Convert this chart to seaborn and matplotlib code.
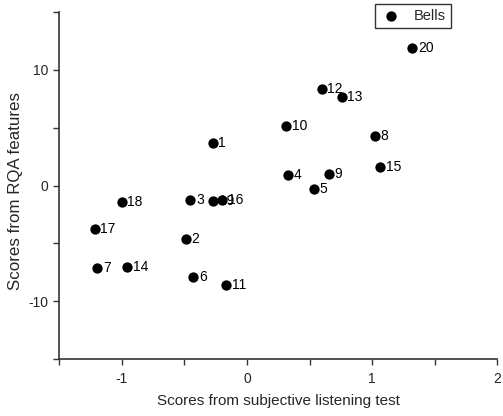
import matplotlib
matplotlib.use("Agg")
import matplotlib.pyplot as plt
import seaborn as sns
import pandas as pd
from matplotlib.ticker import FixedLocator

sns.set_style("ticks")
plt.rcParams['font.family'] = ['Liberation Sans', 'DejaVu Sans']
plt.rcParams['axes.unicode_minus'] = False

labels = [str(i) for i in range(1, 21)]
subjective = [-0.276, -0.489, -0.452, 0.329, 0.534, -0.430, -1.197, 1.020, 0.651, 0.313,
              -0.168, 0.598, 0.758, -0.957, 1.063, -0.200, -1.216, -1.002, -0.270, 1.322]
rqa = [3.64, -4.63, -1.27, 0.95, -0.32, -7.93, -7.09, 4.28, 0.98, 5.17,
       -8.56, 8.35, 7.63, -7.03, 1.56, -1.27, -3.76, -1.45, -1.36, 11.93]

df = pd.DataFrame({"x": subjective, "y": rqa, "label": labels})

fig = plt.figure(figsize=(5.03, 4.16), dpi=100)
ax = fig.add_axes([0.118, 0.137, 0.9887 - 0.118, 0.971 - 0.137])

sns.scatterplot(data=df, x="x", y="y", color="black", edgecolor="black",
                s=55, linewidth=0, label="Bells", ax=ax, zorder=3)

for xi, yi, lab in zip(df["x"], df["y"], df["label"]):
    ax.annotate(lab, (xi, yi), xytext=(4, 0), textcoords="offset points",
                ha="left", va="center", fontsize=10, color="black")

ax.set_xlim(-1.5, 2)
ax.set_ylim(-15, 15)
ax.xaxis.set_major_locator(FixedLocator([-1, 0, 1, 2]))
ax.xaxis.set_minor_locator(FixedLocator([-1.5, -0.5, 0.5, 1.5]))
ax.yaxis.set_major_locator(FixedLocator([-10, 0, 10]))
ax.yaxis.set_minor_locator(FixedLocator([-15, -5, 5, 15]))
ax.tick_params(which="both", direction="out", length=4, width=1, color="#333333")
ax.tick_params(axis="x", which="major", labelsize=10, pad=5)
ax.tick_params(axis="y", which="major", labelsize=10, pad=4)

sns.despine(ax=ax)
for sp in ["left", "bottom"]:
    ax.spines[sp].set_linewidth(1.2)
    ax.spines[sp].set_color("#333333")

ax.set_xlabel("Scores from subjective listening test", fontsize=11, labelpad=6)
ax.set_ylabel("Scores from RQA features", fontsize=12.2)
ax.yaxis.set_label_coords(-0.083, 0.484)

leg = ax.legend(loc="upper center", bbox_to_anchor=(0.808, 1.045), frameon=True,
                fancybox=False, edgecolor="black", fontsize=10.5, handletextpad=0.9,
                handlelength=1.4, borderpad=0.35, markerscale=1.0)
leg.get_frame().set_linewidth(1.0)

fig.savefig("out.png", dpi=100)
